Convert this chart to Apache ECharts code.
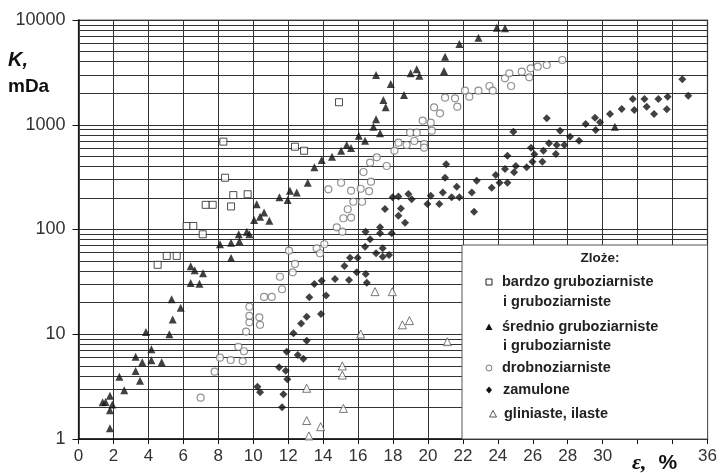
<!DOCTYPE html>
<html>
<head>
<meta charset="utf-8">
<script src="https://cdn.jsdelivr.net/npm/echarts@6/dist/echarts.min.js"></script>
<style>html,body{margin:0;padding:0;background:#fff}#c{width:721px;height:473px}</style>
</head>
<body>
<div id="c"></div>
<script>
// ---- data (x = porosity ε %, y = permeability K mDa) ----
var bardzoGrubo = [[4.53,46],[5.05,56],[5.62,56],[6.19,108],[6.57,108],[7.11,90],[7.28,172],[7.68,172],[8.29,690],[8.39,312],[8.73,166],[8.86,213],[9.68,217],[12.39,617],[12.91,565],[14.91,1640]];
var srednioGrubo = [[1.38,2.24],[1.55,2.25],[1.80,1.27],[1.80,1.88],[1.94,2.13],[1.80,2.59],[2.34,3.93],[2.62,2.92],[3.27,4.46],[3.52,3.60],[3.65,5.40],[3.27,6.11],[3.86,10.5],[4.17,5.64],[4.17,7.18],[4.76,5.40],[5.20,10.0],[5.39,13.8],[5.33,21.6],[5.85,17.9],[6.42,30.9],[6.92,30.4],[6.42,44.5],[6.65,40.8],[7.13,38.2],[8.10,72.3],[8.73,74.8],[8.73,53.5],[9.21,77.2],[9.17,90],[9.63,95],[9.78,90],[10.05,123],[10.2,174],[10.39,132],[10.62,145],[10.92,121],[11.5,203],[11.97,191],[12.1,235],[12.49,225],[13.12,280],[13.50,393],[13.92,460],[14.51,496],[15.03,565],[15.35,641],[15.60,600],[16.04,787],[16.40,704],[16.88,958],[17.03,1127],[17.26,829],[17.45,1722],[17.58,1466],[17.03,2985],[17.87,2449],[18.63,1923],[19.01,3099],[19.36,3383],[19.51,2939],[20.92,3260],[20.98,4466],[21.80,5900],[22.89,6780],[23.94,8450],[24.41,8350],[30.7,958]];
var drobno = [[6.99,2.48],[7.79,4.39],[8.10,5.97],[8.71,5.68],[9.40,5.55],[9.15,7.60],[9.47,6.88],[9.59,10.6],[9.78,13.0],[9.78,15.0],[9.78,18.3],[10.35,14.5],[10.39,12.3],[10.62,22.7],[11.06,22.7],[11.53,35.4],[11.65,26.9],[12.26,39.0],[12.39,46.9],[12.05,62.8],[13.63,66.1],[13.82,59.3],[14.07,72.3],[15.1,95.3],[14.78,105],[15.16,128],[15.6,130],[15.41,156],[15.73,184],[16.23,184],[14.30,242],[15.03,280],[15.6,235],[16.15,245],[16.63,232],[16.74,286],[16.31,354],[16.69,434],[17.07,489],[17.64,404],[18.08,565],[18.31,674],[18.78,641],[18.98,840],[19.36,840],[19.22,700],[19.78,655],[19.78,604],[19.70,1093],[20.16,1047],[20.22,877],[20.35,1466],[20.69,1285],[20.98,1813],[21.55,1787],[21.68,1487],[22.12,2113],[22.37,1853],[22.89,2113],[23.52,2344],[23.71,2113],[24.41,2775],[24.66,3099],[24.76,2344],[25.37,3211],[25.80,2836],[25.88,3459],[26.28,3584],[26.80,3719],[27.69,4150]];
var zamulone = [[10.24,3.16],[10.39,2.79],[11.48,4.84],[11.65,2.01],[11.73,2.67],[11.86,4.49],[11.95,3.72],[11.92,6.81],[12.30,10.2],[12.55,6.34],[12.87,5.84],[13.06,8.68],[12.74,12.7],[13.06,14.7],[13.21,22.5],[13.50,30.2],[13.88,15.6],[13.92,32.5],[14.17,23.4],[14.68,33.7],[15.48,33.0],[15.22,44.8],[15.54,53.8],[15.98,53.8],[15.92,39.0],[16.44,37.6],[16.50,31.1],[16.40,68.5],[16.69,80.6],[16.43,95.3],[17.03,59.3],[17.41,66.1],[17.41,55.0],[17.77,57.1],[17.26,92],[17.93,92],[17.26,105],[17.54,157],[17.98,203],[18.31,206],[18.45,159],[18.31,135],[18.69,116],[18.88,218],[19.07,194],[19.97,175],[20.16,210],[20.65,175],[20.85,225],[21.04,419],[20.98,312],[21.36,203],[21.65,256],[21.80,203],[22.51,225],[22.64,148],[22.79,292],[23.65,251],[23.88,331],[24.10,280],[24.41,378],[24.55,280],[24.55,507],[24.89,859],[24.93,352],[25.03,404],[25.65,393],[25.90,604],[25.98,444],[26.09,522],[26.55,444],[26.61,565],[26.80,1152],[26.93,665],[27.32,526],[27.37,641],[27.56,877],[27.81,641],[28.13,769],[28.65,704],[29.03,1016],[29.56,1167],[29.60,891],[29.85,1055],[30.42,1267],[31.09,1413],[31.72,1762],[31.81,1383],[32.39,1762],[32.52,1487],[32.94,1267],[33.19,1762],[33.72,1853],[33.67,1406],[34.56,2716],[34.90,1893]];
var gliniaste = [[13.06,3.05],[13.06,1.50],[13.19,1.07],[13.86,1.31],[15.1,4.98],[15.1,4.08],[15.16,1.96],[16.15,10.05],[16.97,25.5],[17.96,25.5],[18.54,12.3],[18.94,13.5],[21.11,8.49]];

var xMin = 0, xMax = 36, xStep = 2;
var hiddenXLabels = [32, 34];
var yMin = 1, yMax = 10000;
var legendTitle = 'Zloże:';
var legendItems = [
  ['bardzo gruboziarniste', 'i gruboziarniste'],
  ['średnio gruboziarniste', 'i gruboziarniste'],
  ['drobnoziarniste'],
  ['zamulone'],
  ['gliniaste, ilaste']
];

// minor log grid lines
var minorLines = [];
for (var d = 1; d < yMax; d *= 10) {
  for (var m = 2; m <= 9; m++) minorLines.push({yAxis: d * m});
}

var FONT = '"Liberation Sans", Arial, sans-serif';
var gridColor = '#333';

var chart = echarts.init(document.getElementById('c'), null, {renderer: 'canvas'});

var styles = [
  {symbol: 'rect', size: 7, item: {color: '#fff', borderColor: '#222', borderWidth: 1}},
  {symbol: 'triangle', size: 8, item: {color: '#111'}},
  {symbol: 'circle', size: 7, item: {color: '#fff', borderColor: '#777', borderWidth: 1.2}},
  {symbol: 'diamond', size: 8, item: {color: '#111'}},
  {symbol: 'triangle', size: 8, item: {color: '#fff', borderColor: '#555', borderWidth: 1}}
];
var seriesData = [bardzoGrubo, srednioGrubo, drobno, zamulone, gliniaste];

var series = [{
  type: 'line', data: [], silent: true, symbol: 'none', z: 1,
  markLine: {
    silent: true, symbol: 'none', animation: false,
    label: {show: false},
    lineStyle: {color: gridColor, width: 1, type: 'solid'},
    emphasis: {disabled: true},
    data: minorLines
  }
}];
seriesData.forEach(function (dat, i) {
  series.push({
    type: 'scatter', name: legendItems[i].join(' '), data: dat,
    symbol: styles[i].symbol, symbolSize: styles[i].size,
    itemStyle: styles[i].item, z: 5, animation: false
  });
});

// legend graphic
var lx = 462, ly = 245, lw = 245.5, lh = 194;
var LFONT = 'bold 14.5px ' + FONT;
var g = [
  {type: 'rect', shape: {x: lx, y: ly, width: lw, height: lh}, style: {fill: '#fff', stroke: '#555', lineWidth: 1}, z: 100},
  {type: 'text', x: 600, y: 258, style: {text: legendTitle, font: 'bold 13.5px ' + FONT, fill: '#222', textAlign: 'center', textVerticalAlign: 'middle'}, z: 101}
];
var rowY = [[282, 302], [327, 346], [368], [390], [414]];
var mk = [
  {type: 'rect', shape: {x: -3, y: -3, width: 6, height: 6}, style: {fill: '#fff', stroke: '#222', lineWidth: 1}},
  {type: 'polygon', shape: {points: [[0, -3.5], [3.5, 3], [-3.5, 3]]}, style: {fill: '#111'}},
  {type: 'circle', shape: {cx: 0, cy: 0, r: 3}, style: {fill: '#fff', stroke: '#777', lineWidth: 1}},
  {type: 'polygon', shape: {points: [[0, -3.5], [3, 0], [0, 3.5], [-3, 0]]}, style: {fill: '#111'}},
  {type: 'polygon', shape: {points: [[0, -3.5], [3.5, 3], [-3.5, 3]]}, style: {fill: '#fff', stroke: '#555', lineWidth: 1}}
];
legendItems.forEach(function (lines, i) {
  var m = mk[i];
  m.x = i === 4 ? 493 : 489; m.y = rowY[i][0]; m.z = 101;
  g.push(m);
  lines.forEach(function (t, j) {
    var tx = (i === 3 || i === 4 || j === 1) ? 503 : 502;
    if (i === 4) tx = 504;
    g.push({type: 'text', x: tx, y: rowY[i][j],
      style: {text: t, font: LFONT, fill: '#222', textVerticalAlign: 'middle'}, z: 101});
  });
});
// axis titles
g.push({type: 'text', x: 8, y: 60, style: {text: 'K,', font: 'italic bold 20px ' + FONT, fill: '#111', textVerticalAlign: 'middle'}, z: 101});
g.push({type: 'text', x: 8, y: 87, style: {text: 'mDa', font: 'bold 19px ' + FONT, fill: '#111', textVerticalAlign: 'middle'}, z: 101});
g.push({type: 'text', x: 632, y: 463, style: {
  rich: {e: {font: 'italic bold 22px "Liberation Serif", serif', fill: '#111'}, s: {font: 'bold 20px ' + FONT, fill: '#111', width: 12}, p: {font: 'bold 21px ' + FONT, fill: '#111'}},
  text: '{e|ε,}{s| }{p|%}', textVerticalAlign: 'middle'}, z: 101});

chart.setOption({
  animation: false,
  backgroundColor: '#fff',
  grid: {left: 78.5, right: 13.5, top: 20, bottom: 34, show: true, borderColor: '#9a9a9a', borderWidth: 1.5, backgroundColor: 'transparent'},
  xAxis: {
    type: 'value', min: xMin, max: xMax, interval: xStep,
    axisLine: {show: true, onZero: false, lineStyle: {color: '#111', width: 1.5}},
    axisTick: {show: true, length: 5, lineStyle: {color: '#111'}},
    axisLabel: {fontSize: 17, fontFamily: FONT, color: '#333', margin: 9,
      formatter: function (v) { return hiddenXLabels.indexOf(v) >= 0 ? '' : String(v); }},
    splitLine: {show: true, lineStyle: {color: gridColor, width: 1}}
  },
  yAxis: {
    type: 'log', logBase: 10, min: yMin, max: yMax,
    axisLine: {show: true, lineStyle: {color: '#111', width: 1.5}},
    axisTick: {show: true, length: 6, lineStyle: {color: '#111'}},
    axisLabel: {fontSize: 18, fontFamily: FONT, color: '#333', margin: 13,
      formatter: function (v) { return String(Math.round(v)); }},
    splitLine: {show: true, lineStyle: {color: gridColor, width: 1}},
    minorTick: {show: false}, minorSplitLine: {show: false}
  },
  legend: {show: false},
  series: series,
  graphic: g
});
</script>
</body>
</html>
